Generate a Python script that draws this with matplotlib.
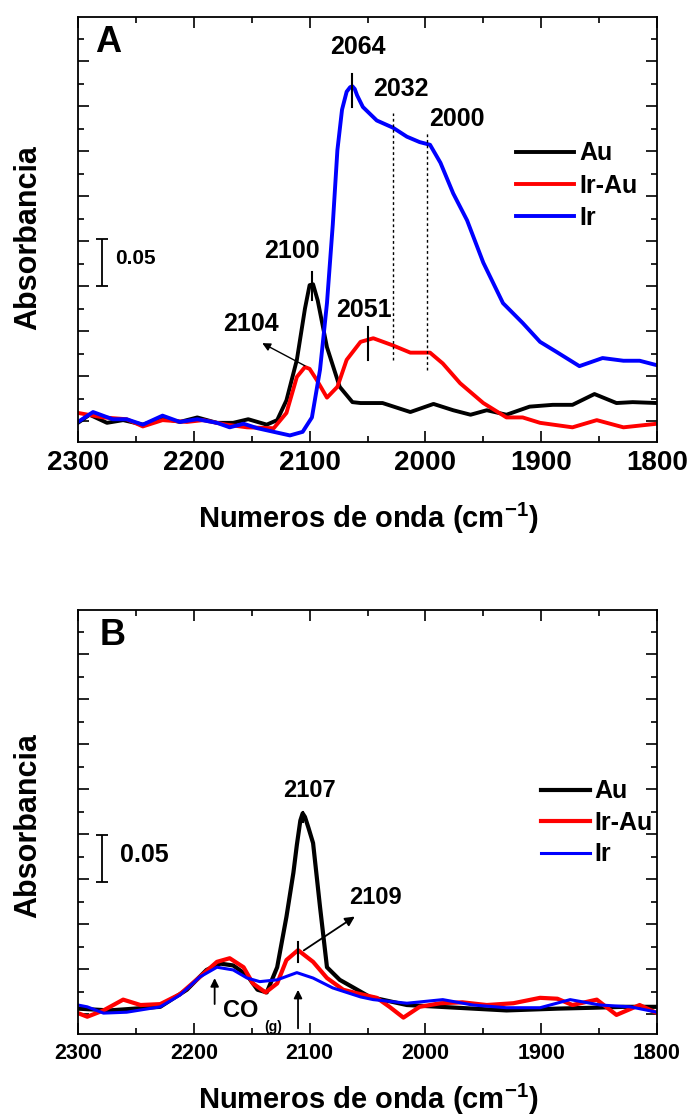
import numpy as np
import matplotlib
matplotlib.use('Agg')
import matplotlib.pyplot as plt
import matplotlib.ticker as mticker
from matplotlib import rcParams

# ── Tipografía ───────────────────────────────────────────────────────────────
rcParams['font.family'] = ['Liberation Sans', 'DejaVu Sans']
rcParams['font.weight'] = 'bold'
rcParams['mathtext.fontset'] = 'custom'
rcParams['mathtext.rm'] = 'Liberation Sans:bold'
rcParams['mathtext.bf'] = 'Liberation Sans:bold'

# ── Datos panel A (número de onda, absorbancia) ─────────────────────────────
wn_au_a = [2300, 2290, 2275, 2261, 2244, 2227, 2212, 2197, 2180, 2166, 2153, 2137,
           2128, 2120, 2111, 2104, 2100, 2097, 2093, 2085, 2074, 2063, 2056, 2037,
           2013, 1993, 1976, 1961, 1947, 1930, 1910, 1890, 1873, 1854, 1835, 1821,
           1800]
ab_au_a = [-0.002, 0.007, -0.002, 0.001, -0.004, 0.003, -0.001, 0.004, -0.002, -0.002,
           0.002, -0.004, 0.001, 0.023, 0.068, 0.125, 0.151, 0.152, 0.134, 0.082,
           0.038, 0.021, 0.020, 0.020, 0.010, 0.019, 0.012, 0.007, 0.012, 0.007,
           0.016, 0.018, 0.018, 0.030, 0.020, 0.021, 0.020]

wn_irau_a = [2300, 2278, 2258, 2244, 2227, 2206, 2192, 2172, 2154, 2131, 2120, 2111,
             2104, 2100, 2094, 2085, 2076, 2068, 2056, 2045, 2028, 2013, 1996, 1985,
             1970, 1950, 1930, 1916, 1901, 1873, 1852, 1829, 1800]
ab_irau_a = [0.009, 0.004, 0.002, -0.006, 0.001, -0.001, 0.001, -0.004, -0.007, -0.008,
             0.009, 0.049, 0.060, 0.058, 0.046, 0.026, 0.038, 0.068, 0.088, 0.092,
             0.084, 0.076, 0.076, 0.064, 0.042, 0.020, 0.004, 0.004, -0.002, -0.007,
             0.001, -0.007, -0.003]

wn_ir_a = [2300, 2287, 2270, 2258, 2244, 2227, 2212, 2197, 2180, 2169, 2157, 2145,
           2131, 2117, 2106, 2098, 2091, 2085, 2080, 2076, 2072, 2068, 2065, 2063,
           2061, 2059, 2054, 2042, 2028, 2016, 2005, 1996, 1987, 1976, 1964, 1950,
           1933, 1916, 1901, 1887, 1867, 1847, 1829, 1815, 1800]
ab_ir_a = [-0.001, 0.010, 0.002, 0.002, -0.004, 0.006, -0.001, 0.002, -0.002, -0.007,
           -0.003, -0.008, -0.012, -0.016, -0.012, 0.004, 0.057, 0.131, 0.218, 0.301,
           0.346, 0.366, 0.371, 0.372, 0.369, 0.362, 0.349, 0.334, 0.326, 0.316,
           0.310, 0.307, 0.287, 0.253, 0.223, 0.176, 0.131, 0.109, 0.088, 0.077,
           0.061, 0.070, 0.067, 0.067, 0.062]

# ── Datos panel B ────────────────────────────────────────────────────────────
wn_au_b = [2300, 2273, 2229, 2206, 2189, 2177, 2166, 2154, 2145, 2137, 2128, 2120,
           2114, 2111, 2108, 2106, 2104, 2101, 2097, 2091, 2085, 2074, 2063, 2048,
           2016, 1973, 1930, 1886, 1855, 1829, 1800]
ab_au_b = [0.006, 0.004, 0.008, 0.027, 0.049, 0.056, 0.054, 0.043, 0.027, 0.024,
           0.052, 0.108, 0.157, 0.188, 0.215, 0.223, 0.219, 0.207, 0.190, 0.119,
           0.052, 0.038, 0.030, 0.019, 0.010, 0.007, 0.004, 0.006, 0.007, 0.008,
           0.008]

wn_irau_b = [2300, 2292, 2278, 2261, 2246, 2229, 2212, 2195, 2180, 2169, 2157, 2149,
             2138, 2128, 2120, 2110, 2097, 2085, 2071, 2059, 2042, 2031, 2019, 2005,
             1987, 1968, 1947, 1924, 1901, 1886, 1873, 1852, 1835, 1815, 1800]
ab_irau_b = [0.001, -0.003, 0.004, 0.016, 0.010, 0.011, 0.022, 0.041, 0.058, 0.062,
             0.052, 0.034, 0.024, 0.034, 0.060, 0.071, 0.058, 0.040, 0.027, 0.023,
             0.018, 0.008, -0.004, 0.008, 0.012, 0.013, 0.010, 0.012, 0.018, 0.017,
             0.010, 0.016, -0.001, 0.010, 0.001]

wn_ir_b = [2300, 2292, 2278, 2258, 2229, 2212, 2195, 2180, 2166, 2154, 2143, 2128,
           2111, 2097, 2080, 2056, 2045, 2016, 1985, 1959, 1930, 1901, 1875, 1849,
           1823, 1800]
ab_ir_b = [0.010, 0.008, 0.001, 0.002, 0.008, 0.021, 0.041, 0.052, 0.049, 0.040,
           0.036, 0.038, 0.046, 0.040, 0.029, 0.019, 0.016, 0.012, 0.016, 0.010,
           0.007, 0.007, 0.016, 0.010, 0.008, 0.002]

etiquetas = ['Au', 'Ir-Au', 'Ir']
colores = ['black', 'red', 'blue']
xticks = [2300, 2200, 2100, 2000, 1900, 1800]

# ── Figura ───────────────────────────────────────────────────────────────────
W, H = 691, 1118
fig = plt.figure(figsize=(W / 100, H / 100), dpi=100)
axA = fig.add_axes([78 / W, 1 - 442 / H, 579 / W, 425 / H])
axB = fig.add_axes([78 / W, 1 - 1034 / H, 579 / W, 424 / H])


def estilo(ax, ymin, fs_tick, pad):
    ax.set_xlim(2300, 1800)
    ax.set_ylim(ymin, 0.449)
    ax.set_xticks(xticks)
    ax.set_xticklabels([str(t) for t in xticks])
    ax.xaxis.set_minor_locator(mticker.MultipleLocator(50))
    ax.yaxis.set_major_locator(mticker.MultipleLocator(0.05))
    ax.yaxis.set_minor_locator(mticker.MultipleLocator(0.025))
    ax.tick_params(which='both', direction='in', top=True, right=True,
                   labelleft=False, width=1.2)
    ax.tick_params(which='major', length=8, labelsize=fs_tick, pad=pad)
    ax.tick_params(which='minor', length=4)
    for s in ax.spines.values():
        s.set_linewidth(1.3)


# ── Panel A ──────────────────────────────────────────────────────────────────
estilo(axA, -0.0233, 20, 6)
for wn, ab, c, lab in zip([wn_au_a, wn_irau_a, wn_ir_a], [ab_au_a, ab_irau_a, ab_ir_a],
                          colores, etiquetas):
    axA.plot(wn, ab, color=c, lw=2.8, label=lab, solid_joinstyle='round')

axA.text(2285, 0.41, 'A', fontsize=26, ha='left', va='baseline')
axA.plot([2063, 2063], [0.349, 0.386], color='k', lw=1.5)
axA.text(2058, 0.416, '2064', fontsize=18, ha='center', va='center')
axA.vlines([2028, 1999], [0.068, 0.057], [0.342, 0.321], colors='k', lw=1,
           linestyles=(0, (2, 2)))
axA.text(2021, 0.369, '2032', fontsize=18, ha='center', va='center')
axA.text(1973, 0.336, '2000', fontsize=18, ha='center', va='center')
axA.plot([2098, 2098], [0.134, 0.166], color='k', lw=1.5)
axA.text(2115, 0.189, '2100', fontsize=18, ha='center', va='center')
axA.plot([2050, 2050], [0.068, 0.104], color='k', lw=1.5)
axA.text(2053, 0.123, '2051', fontsize=18, ha='center', va='center')
axA.annotate('', xy=(2143, 0.088), xytext=(2102, 0.060),
             arrowprops=dict(arrowstyle='-|>', color='k', lw=1, mutation_scale=12))
axA.text(2151, 0.108, '2104', fontsize=18, ha='center', va='center')
axA.errorbar(2279, 0.176, yerr=0.026, fmt='none', ecolor='k', elinewidth=1.3,
             capsize=4, capthick=1.3)
axA.text(2268, 0.181, '0.05', fontsize=15, ha='left', va='center')

axA.legend(loc='upper left', bbox_to_anchor=(0.735, 0.737), frameon=False,
           fontsize=18, handlelength=2.3, handletextpad=0.25, labelspacing=0.33,
           borderpad=0)

# ── Panel B ──────────────────────────────────────────────────────────────────
estilo(axB, -0.0222, 15.5, 6.5)
for wn, ab, c, lab, lw in zip([wn_au_b, wn_irau_b, wn_ir_b], [ab_au_b, ab_irau_b, ab_ir_b],
                              colores, etiquetas, [3, 3, 2.2]):
    axB.plot(wn, ab, color=c, lw=lw, label=lab, solid_joinstyle='round')

axB.text(2281, 0.41, 'B', fontsize=26, ha='left', va='baseline')
axB.plot([2106, 2106], [0.213, 0.224], color='k', lw=1.5)
axB.text(2100, 0.248, '2107', fontsize=17, ha='center', va='center')
axB.plot([2110, 2110], [0.058, 0.080], color='k', lw=1.5)
axB.annotate('', xy=(2059, 0.110), xytext=(2107, 0.069),
             arrowprops=dict(arrowstyle='-|>', color='k', lw=1.3, mutation_scale=14))
axB.text(2043, 0.130, '2109', fontsize=17, ha='center', va='center')
axB.annotate('', xy=(2182, 0.043), xytext=(2182, 0.008),
             arrowprops=dict(arrowstyle='-|>', color='k', lw=1.3, mutation_scale=12))
axB.annotate('', xy=(2110, 0.030), xytext=(2110, -0.019),
             arrowprops=dict(arrowstyle='-|>', color='k', lw=1.3, mutation_scale=12))
axB.text(2175, -0.003, 'CO', fontsize=17, ha='left', va='baseline')
axB.text(2139, -0.019, '(g)', fontsize=10, ha='left', va='baseline')
axB.errorbar(2279, 0.173, yerr=0.026, fmt='none', ecolor='k', elinewidth=1.3,
             capsize=4, capthick=1.3)
axB.text(2264, 0.177, '0.05', fontsize=18, ha='left', va='center')

axB.legend(loc='upper left', bbox_to_anchor=(0.778, 0.63), frameon=False,
           fontsize=18, handlelength=1.95, handletextpad=0.2, labelspacing=0.3,
           borderpad=0)

# ── Rótulos de ejes ──────────────────────────────────────────────────────────
xlab = r'Numeros de onda (cm$^{\mathbf{-1}}$)'
fig.text(368 / W, 1 - 528 / H, xlab, fontsize=21, ha='center', va='baseline')
fig.text(368 / W, 1 - 1109 / H, xlab, fontsize=21, ha='center', va='baseline')
fig.text(28 / W, 1 - 238 / H, 'Absorbancia', fontsize=22, rotation=90,
         ha='center', va='center')
fig.text(28 / W, 1 - 826 / H, 'Absorbancia', fontsize=22, rotation=90,
         ha='center', va='center')

plt.savefig('out.png', dpi=100)
plt.close()
